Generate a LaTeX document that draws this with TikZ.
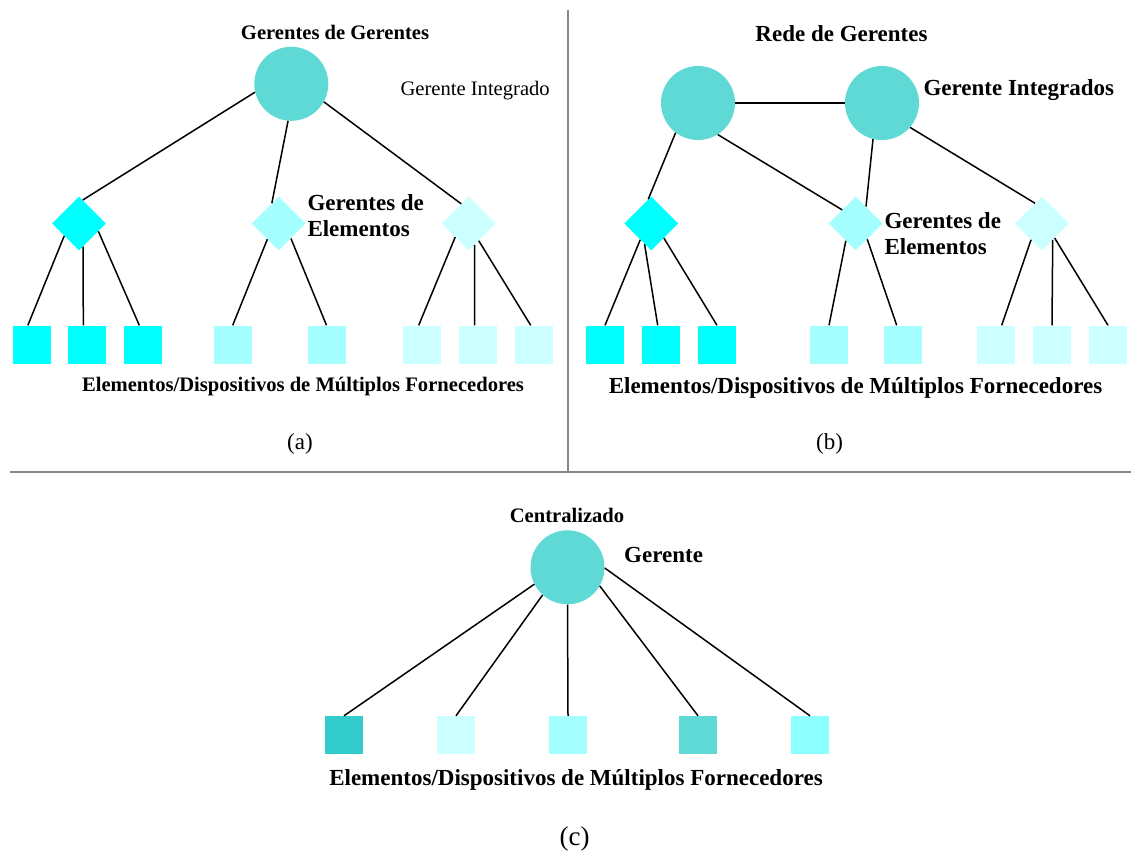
\documentclass[tikz,border=0pt]{standalone}
\usepackage{fontspec}
\setmainfont{Liberation Serif}
\usetikzlibrary{shapes.geometric}
\definecolor{circ}{RGB}{94,217,214}
\definecolor{cyA}{RGB}{0,255,255}
\definecolor{cyB}{RGB}{166,255,255}
\definecolor{cyC}{RGB}{204,255,255}
\definecolor{tealD}{RGB}{51,204,204}
\definecolor{cyE}{RGB}{140,255,255}
\definecolor{divgray}{RGB}{135,135,135}
\begin{document}
\begin{tikzpicture}[x=1pt,y=-1pt,
  mgr/.style={circle,fill=circ,draw=none,minimum size=74pt,inner sep=0pt},
  elm/.style={diamond,aspect=1,draw=none,minimum width=54pt,minimum height=54pt,inner sep=0pt},
  dev/.style={rectangle,draw=none,minimum size=38pt,inner sep=0pt},
  conn/.style={draw=black,line width=1.5pt},
  divider/.style={draw=divgray,line width=1.8pt},
  smallbold/.style={font=\fontsize{20.6}{24}\selectfont\bfseries,inner sep=0pt},
  bigbold/.style={font=\fontsize{23}{26}\selectfont\bfseries,inner sep=0pt},
  smallreg/.style={font=\fontsize{20.6}{24}\selectfont,inner sep=0pt},
  capreg/.style={font=\fontsize{23}{26}\selectfont,inner sep=0pt},
  capbig/.style={font=\fontsize{27}{30}\selectfont,inner sep=0pt}]
\useasboundingbox (0,0) rectangle (1131,853);

% dividers
\coordinate (vtop) at (567.7,10);
\coordinate (vbot) at (567.7,472);
\coordinate (hleft) at (10,472);
\coordinate (hright) at (1131,472);
\draw[divider] (vtop) -- (vbot);
\draw[divider] (hleft) -- (hright);

% ---------- (a) ----------
\node[mgr] (ca) at (291.3,83.8) {};
\node[elm,fill=cyA] (da1) at (79,223.5) {};
\node[elm,fill=cyB] (da2) at (278.8,223.5) {};
\node[elm,fill=cyC] (da3) at (468.8,223.5) {};
\node[dev,fill=cyA] (sa1) at (31.85,344.5) {};
\node[dev,fill=cyA] (sa2) at (87,344.5) {};
\node[dev,fill=cyA] (sa3) at (143,344.5) {};
\node[dev,fill=cyB] (sa4) at (232.7,344.5) {};
\node[dev,fill=cyB] (sa5) at (326.5,344.5) {};
\node[dev,fill=cyC] (sa6) at (422,344.5) {};
\node[dev,fill=cyC] (sa7) at (478,344.5) {};
\node[dev,fill=cyC] (sa8) at (534,344.5) {};

\draw[conn] (ca.193) -- (da1.81);
\draw[conn] (ca.265) -- (da2.109);
\draw[conn] (ca.331) -- (da3.111);
\draw[conn] (da1.220) -- ([xshift=-4pt]sa1.north);
\draw[conn] (da1.280) -- ([xshift=-3.7pt]sa2.north);
\draw[conn] (da1.338) -- ([xshift=-3.7pt]sa3.north);
\draw[conn] (da2.234) -- (sa4.north);
\draw[conn] (da2.309) -- (sa5.north);
\draw[conn] (da3.225) -- ([xshift=-3.3pt]sa6.north);
\draw[conn] (da3.285) -- ([xshift=-3.3pt]sa7.north);
\draw[conn] (da3.300) -- ([xshift=-3.3pt]sa8.north);

\node[smallbold,anchor=base] (tgg) at (335,39.3) {Gerentes de Gerentes};
\node[smallreg,anchor=base west] (tgi) at (400.3,95.3) {Gerente Integrado};
\node[bigbold,anchor=base west,align=left] (tgea) at (307.3,236) {Gerentes de\\Elementos};
\node[smallbold,anchor=base] (tea) at (303,391.7) {Elementos/Dispositivos de Múltiplos Fornecedores};
\node[capreg,anchor=base] (ta) at (300,449.5) {(a)};

% ---------- (b) ----------
\node[mgr] (cb1) at (698,103) {};
\node[mgr] (cb2) at (882,103) {};
\node[elm,fill=cyA] (db1) at (651.2,223.5) {};
\node[elm,fill=cyB] (db2) at (855.8,223.5) {};
\node[elm,fill=cyC] (db3) at (1042,223.5) {};
\node[dev,fill=cyA] (sb1) at (605,344.5) {};
\node[dev,fill=cyA] (sb2) at (661,344.5) {};
\node[dev,fill=cyA] (sb3) at (717,344.5) {};
\node[dev,fill=cyB] (sb4) at (829,344.5) {};
\node[dev,fill=cyB] (sb5) at (903,344.5) {};
\node[dev,fill=cyC] (sb6) at (996,344.5) {};
\node[dev,fill=cyC] (sb7) at (1052,344.5) {};
\node[dev,fill=cyC] (sb8) at (1108,344.5) {};

\draw[conn] (cb1.east) -- (cb2.west);
\draw[conn] (cb1.233) -- (db1.97);
\draw[conn] (cb1.302) -- (db2.135);
\draw[conn] (cb2.256) -- (db2.59);
\draw[conn] (cb2.319) -- (db3.109);
\draw[conn] (db1.236) -- (sb1.north);
\draw[conn] (db1.252) -- ([xshift=-3.3pt]sb2.north);
\draw[conn] (db1.311) -- (sb3.north);
\draw[conn] (db2.240) -- (sb4.north);
\draw[conn] (db2.306) -- ([xshift=-6.3pt]sb5.north);
\draw[conn] (db3.236) -- ([xshift=5.7pt]sb6.north);
\draw[conn] (db3.303) -- (sb7.north);
\draw[conn] (db3.311) -- (sb8.north);

\node[bigbold,anchor=base] (trg) at (841.5,41.5) {Rede de Gerentes};
\node[bigbold,anchor=base west] (tgis) at (923.3,95.7) {Gerente Integrados};
\node[bigbold,anchor=base west,align=left] (tgeb) at (884.3,254.3) {Gerentes de\\Elementos};
\node[bigbold,anchor=base] (teb) at (855.5,393) {Elementos/Dispositivos de Múltiplos Fornecedores};
\node[capreg,anchor=base] (tb) at (829.5,449.5) {(b)};

% ---------- (c) ----------
\node[mgr] (cc) at (567.5,567.3) {};
\node[dev,fill=tealD] (sc1) at (344,735) {};
\node[dev,fill=cyC] (sc2) at (456,735) {};
\node[dev,fill=cyB] (sc3) at (568,735) {};
\node[dev,fill=circ] (sc4) at (698,735) {};
\node[dev,fill=cyE] (sc5) at (810,735) {};

\draw[conn] (cc.207) -- (sc1.north);
\draw[conn] (cc.228) -- (sc2.north);
\draw[conn] (cc.270) -- (sc3.north);
\draw[conn] (cc.330) -- (sc4.north);
\draw[conn] (cc.359) -- (sc5.north);

\node[smallbold,anchor=base] (tcen) at (567,522.7) {Centralizado};
\node[bigbold,anchor=base west] (tgc) at (624,562.3) {Gerente};
\node[bigbold,anchor=base] (tec) at (576,785) {Elementos/Dispositivos de Múltiplos Fornecedores};
\node[capbig,anchor=base] (tc) at (574.6,845) {(c)};
\end{tikzpicture}
\end{document}
